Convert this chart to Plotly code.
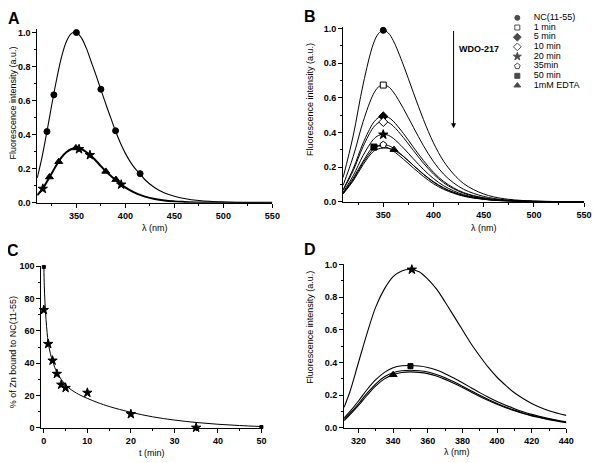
import plotly.graph_objects as go

FONT = "Liberation Sans, Arial, sans-serif"

# ---------------- Panel A ----------------
a_wl = [310, 315, 320, 325, 330, 335, 340, 345, 350, 355, 360, 365, 370, 375, 380, 385, 390, 395,
        400, 405, 410, 415, 420, 430, 440, 450, 460, 475, 500, 525, 550]
a_nc = [0.145, 0.27, 0.42, 0.58, 0.73, 0.86, 0.95, 0.995, 1.0, 0.97, 0.91, 0.83, 0.75, 0.665, 0.58,
        0.50, 0.42, 0.35, 0.29, 0.24, 0.20, 0.17, 0.135, 0.088, 0.057, 0.038, 0.025, 0.013, 0.004, 0.001, 0.0]
a_low = [0.044, 0.078, 0.125, 0.175, 0.225, 0.268, 0.298, 0.316, 0.322, 0.316, 0.298, 0.274, 0.247,
         0.215, 0.185, 0.158, 0.134, 0.11, 0.09, 0.073, 0.058, 0.046, 0.036, 0.022, 0.013, 0.008,
         0.005, 0.002, 0.001, 0.0, 0.0]
a_circ_x = [320, 327, 350, 375, 390, 415]
a_circ_y = [0.418, 0.634, 1.0, 0.667, 0.423, 0.171]
a_tri_x = [322.5, 332, 349.5, 380, 390.3]
a_tri_y = [0.151, 0.241, 0.322, 0.184, 0.136]
a_star_x = [315.7, 352.7, 363.8, 395.7]
a_star_y = [0.082, 0.315, 0.28, 0.107]

# ---------------- Panel B ----------------
b_wl = [310, 320, 330, 340, 345, 350, 355, 360, 370, 380, 390, 400, 410, 420, 430, 440, 450, 460,
        475, 500, 525, 550]
b_labels = ["NC(11-55)", "1 min", "5 min", "10 min", "20 min", "35min", "50 min", "1mM EDTA"]
b_nc = [0.14, 0.38, 0.68, 0.91, 0.97, 0.99, 0.975, 0.93, 0.79, 0.63, 0.475, 0.34, 0.235, 0.16, 0.105,
        0.07, 0.045, 0.028, 0.014, 0.004, 0.001, 0.0]
b_1 = [0.095, 0.26, 0.464, 0.62, 0.662, 0.675, 0.665, 0.634, 0.539, 0.43, 0.324, 0.232, 0.16, 0.109,
       0.072, 0.048, 0.031, 0.019, 0.0095, 0.003, 0.001, 0.0]
b_5 = [0.07, 0.19, 0.34, 0.455, 0.485, 0.495, 0.488, 0.465, 0.395, 0.315, 0.238, 0.17, 0.118, 0.08,
       0.053, 0.035, 0.023, 0.014, 0.007, 0.002, 0.0005, 0.0]
b_10 = [0.066, 0.179, 0.32, 0.428, 0.456, 0.465, 0.458, 0.437, 0.371, 0.296, 0.223, 0.16, 0.11, 0.075,
        0.049, 0.033, 0.021, 0.013, 0.0066, 0.002, 0.0005, 0.0]
b_20 = [0.055, 0.15, 0.268, 0.359, 0.382, 0.39, 0.384, 0.366, 0.311, 0.248, 0.187, 0.134, 0.093, 0.063,
        0.041, 0.028, 0.018, 0.011, 0.0055, 0.0016, 0.0004, 0.0]
b_35 = [0.047, 0.127, 0.226, 0.303, 0.323, 0.33, 0.325, 0.31, 0.263, 0.21, 0.158, 0.113, 0.078, 0.053,
        0.035, 0.023, 0.015, 0.009, 0.0047, 0.0013, 0.0003, 0.0]
b_50 = [0.05, 0.135, 0.235, 0.316, 0.322, 0.32, 0.31, 0.293, 0.246, 0.195, 0.146, 0.104, 0.072, 0.049,
        0.032, 0.021, 0.014, 0.0085, 0.0043, 0.0012, 0.0003, 0.0]
b_edta = [0.045, 0.12, 0.215, 0.29, 0.305, 0.31, 0.309, 0.3, 0.262, 0.21, 0.16, 0.116, 0.081, 0.055,
          0.036, 0.024, 0.016, 0.0095, 0.0048, 0.0014, 0.0003, 0.0]
b_mark_x = [350, 350, 350, 350, 350, 350, 340.7, 360.7]
b_mark_y = [0.99, 0.674, 0.493, 0.461, 0.388, 0.329, 0.316, 0.301]
b_symbols = ["circle", "square", "diamond", "diamond", "star", "pentagon", "square", "triangle-up"]
b_fills = ["black", "white", "black", "white", "black", "white", "black", "black"]
b_sizes = [6, 6, 7, 7, 7, 7, 6, 7]

# ---------------- Panel C ----------------
c_t = [0, 0.1, 0.25, 0.5, 0.75, 1, 1.5, 2, 2.5, 3, 4, 5, 6, 8, 10, 12.5, 15, 20, 25, 30, 35, 40, 45, 50]
c_fit = [100, 88, 78, 67, 59, 53, 46, 41.5, 37.5, 34.5, 30, 26.8, 24.2, 20.8, 18.3, 15.6, 13.3, 9.7,
         6.9, 4.9, 3.4, 2.3, 1.5, 0.9]
c_star_t = [0, 1, 2, 3, 4, 5, 10, 20, 35]
c_star_y = [73, 52, 41.7, 33.5, 26.8, 24.8, 21.8, 8.6, 0.2]
c_end_t = [0, 50]
c_end_y = [99.6, 0.6]

# ---------------- Panel D ----------------
d_wl = [311.7, 315, 320, 325, 330, 335, 340, 345, 350, 355, 360, 365, 370, 375, 380, 385, 390, 395,
        400, 405, 410, 415, 420, 425, 430, 435, 440]
d_top = [0.127, 0.22, 0.40, 0.58, 0.74, 0.85, 0.925, 0.96, 0.968, 0.955, 0.91, 0.85, 0.77, 0.685, 0.60,
         0.515, 0.44, 0.37, 0.31, 0.26, 0.215, 0.18, 0.15, 0.125, 0.105, 0.09, 0.077]
d_sq = [0.062, 0.1, 0.165, 0.235, 0.295, 0.34, 0.368, 0.38, 0.382, 0.379, 0.37, 0.354, 0.332, 0.305,
        0.276, 0.246, 0.216, 0.188, 0.162, 0.139, 0.118, 0.099, 0.083, 0.07, 0.058, 0.047, 0.038]
d_mid = [0.052, 0.088, 0.148, 0.213, 0.27, 0.313, 0.338, 0.35, 0.353, 0.35, 0.342, 0.327, 0.307, 0.282,
         0.255, 0.227, 0.2, 0.174, 0.15, 0.128, 0.109, 0.092, 0.077, 0.065, 0.054, 0.044, 0.035]
d_low = [0.045, 0.08, 0.138, 0.2, 0.257, 0.3, 0.326, 0.339, 0.343, 0.34, 0.332, 0.317, 0.297, 0.273,
         0.247, 0.22, 0.193, 0.168, 0.145, 0.124, 0.105, 0.088, 0.074, 0.062, 0.051, 0.041, 0.032]
d_star = (350.8, 0.968)
d_square = (350, 0.378)
d_tri = (340, 0.325)

fig = go.Figure()


def line(x, y, xa, ya, w=1.0):
    fig.add_trace(go.Scatter(x=x, y=y, mode="lines", xaxis=xa, yaxis=ya,
                             line=dict(color="black", width=w, shape="spline", smoothing=1),
                             hoverinfo="skip"))


def marks(x, y, xa, ya, symbol, size, fill="black"):
    fig.add_trace(go.Scatter(x=x, y=y, mode="markers", xaxis=xa, yaxis=ya, cliponaxis=False,
                             marker=dict(symbol=symbol, size=size, color=fill,
                                         line=dict(color="black", width=1)),
                             hoverinfo="skip"))


# A
line(a_wl, a_nc, "x", "y", 1.1)
line(a_wl, a_low, "x", "y", 2.0)
marks(a_circ_x, a_circ_y, "x", "y", "circle", 6)
marks(a_tri_x, a_tri_y, "x", "y", "triangle-up", 7)
marks(a_star_x, a_star_y, "x", "y", "star", 7)

# B
for ys in [b_nc, b_1, b_5, b_10, b_20, b_35, b_50, b_edta]:
    line(b_wl, ys, "x2", "y2", 1.0)
for i in range(len(b_labels)):
    marks([b_mark_x[i]], [b_mark_y[i]], "x2", "y2", b_symbols[i], b_sizes[i], b_fills[i])

# C
line(c_t, c_fit, "x3", "y3", 1.0)
marks(c_star_t, c_star_y, "x3", "y3", "star", 7)
marks(c_end_t, c_end_y, "x3", "y3", "square", 3)

# D
line(d_wl, d_top, "x4", "y4", 1.1)
line(d_wl, d_sq, "x4", "y4", 1.1)
line(d_wl, d_mid, "x4", "y4", 1.1)
line(d_wl, d_low, "x4", "y4", 1.1)
marks([d_star[0]], [d_star[1]], "x4", "y4", "star", 7)
marks([d_square[0]], [d_square[1]], "x4", "y4", "square", 5)
marks([d_tri[0]], [d_tri[1]], "x4", "y4", "triangle-up", 7)

# custom compact legend for B
fig.add_trace(go.Scatter(x=[8.3] * len(b_labels), y=b_labels, mode="markers", xaxis="x5", yaxis="y5",
                         cliponaxis=False,
                         marker=dict(symbol=b_symbols, size=[s - 1 for s in b_sizes], color=b_fills,
                                     line=dict(color="black", width=1)),
                         hoverinfo="skip"))
fig.add_trace(go.Scatter(x=[25.0] * len(b_labels), y=b_labels, mode="text", xaxis="x5", yaxis="y5",
                         text=b_labels, textposition="middle right", cliponaxis=False,
                         textfont=dict(family=FONT, size=9, color="black"), hoverinfo="skip"))

tickfont = dict(family=FONT, size=9, color="black", weight="bold")


def axis(domain, rng, dtick, minor, anchor, fmt=None):
    d = dict(domain=domain, range=rng, dtick=dtick, showline=True, linecolor="black", linewidth=1,
             ticks="outside", ticklen=4, tickwidth=1, tickcolor="black", showgrid=False,
             zeroline=False, tickfont=tickfont, anchor=anchor, fixedrange=True,
             minor=dict(dtick=minor, ticks="outside", ticklen=2, tickwidth=1, tickcolor="black",
                        showgrid=False))
    if fmt:
        d["tickformat"] = fmt
    return d


# the browser's default 8px body margin offsets the figure; size it to fill the rest
OFF = 8.0
W = 600.0 - OFF
H = 463.0 - OFF


def ydom(bottom_px, top_px):
    return [1 - (bottom_px - OFF) / H, 1 - (top_px - OFF) / H]


def xdom(left_px, right_px):
    return [(left_px - OFF) / W, (right_px - OFF) / W]


fig.update_layout(
    width=int(W), height=int(H), margin=dict(l=0, r=0, t=0, b=0),
    paper_bgcolor="white", plot_bgcolor="white", showlegend=False,
    font=dict(family=FONT, size=9, color="black"),
    xaxis=axis(xdom(37.6, 276), [310, 550], 50, 25, "y"),
    yaxis=axis(ydom(202, 24.5), [0, 1.02], 0.2, 0.1, "x", ".1f"),
    xaxis2=axis(xdom(347.7, 592), [310, 550], 50, 25, "y2"),
    yaxis2=axis(ydom(201, 22.2), [0, 1.01], 0.2, 0.1, "x2", ".1f"),
    xaxis3=axis(xdom(41.7, 266.2), [-0.6, 50.3], 10, 5, "y3"),
    yaxis3=axis(ydom(432.3, 266.2), [0, 100.5], 20, 10, "x3"),
    xaxis4=axis(xdom(348.7, 574), [311.7, 440], 20, 10, "y4"),
    yaxis4=axis(ydom(432.3, 265), [0, 1.0], 0.2, 0.1, "x4", ".1f"),
    xaxis5=dict(domain=xdom(516, 600), range=[0, 84], visible=False, fixedrange=True, anchor="y5"),
    yaxis5=dict(domain=ydom(87.07, 5.93 + 2.1), type="category", categoryarray=b_labels,
                categoryorder="array", range=[7.5, -0.5], visible=False, fixedrange=True,
                anchor="x5"),
)

ann = []


def text(x, y, s, size=9, bold=False, angle=0, xanchor="center"):
    ann.append(dict(x=(x - OFF) / W, y=1 - (y - OFF) / H, xref="paper", yref="paper", text=s,
                    showarrow=False, textangle=angle, xanchor=xanchor, yanchor="middle",
                    font=dict(family=FONT, size=size, color="black",
                              weight="bold" if bold else "normal")))


# panel letters
text(14, 14, "A", 16, True)
text(314, 12, "B", 16, True)
text(13, 251, "C", 16, True)
text(314, 249.5, "D", 16, True)
# axis titles
text(13, 99.7, "Fluorescence intensity (a.u.)", 9, False, -90)
text(157, 227.5, "λ (nm)", 9)
text(314, 96, "Fluorescence intensity (a.u.)", 9, False, -90)
text(491, 227.5, "λ (nm)", 9)
text(13, 355, "% of Zn bound to NC(11-55)", 9, False, -90)
text(154, 457.5, "t (min)", 9)
text(314, 329, "Fluorescence intensity (a.u.)", 9, False, -90)
text(463, 456.5, "λ (nm)", 9)

# arrow and label in B
ann.append(dict(x=420, y=0.425, ax=420, ay=0.995, xref="x2", yref="y2", axref="x2", ayref="y2",
                text="", showarrow=True, arrowhead=2, arrowsize=1, arrowwidth=1, arrowcolor="black"))
ann.append(dict(x=423.5, y=0.88, xref="x2", yref="y2", text="WDO-217", showarrow=False,
                xanchor="left", yanchor="middle",
                font=dict(family=FONT, size=9, color="black", weight="bold")))

fig.update_layout(annotations=ann)
fig.write_html("out.html", config={"displayModeBar": False})
